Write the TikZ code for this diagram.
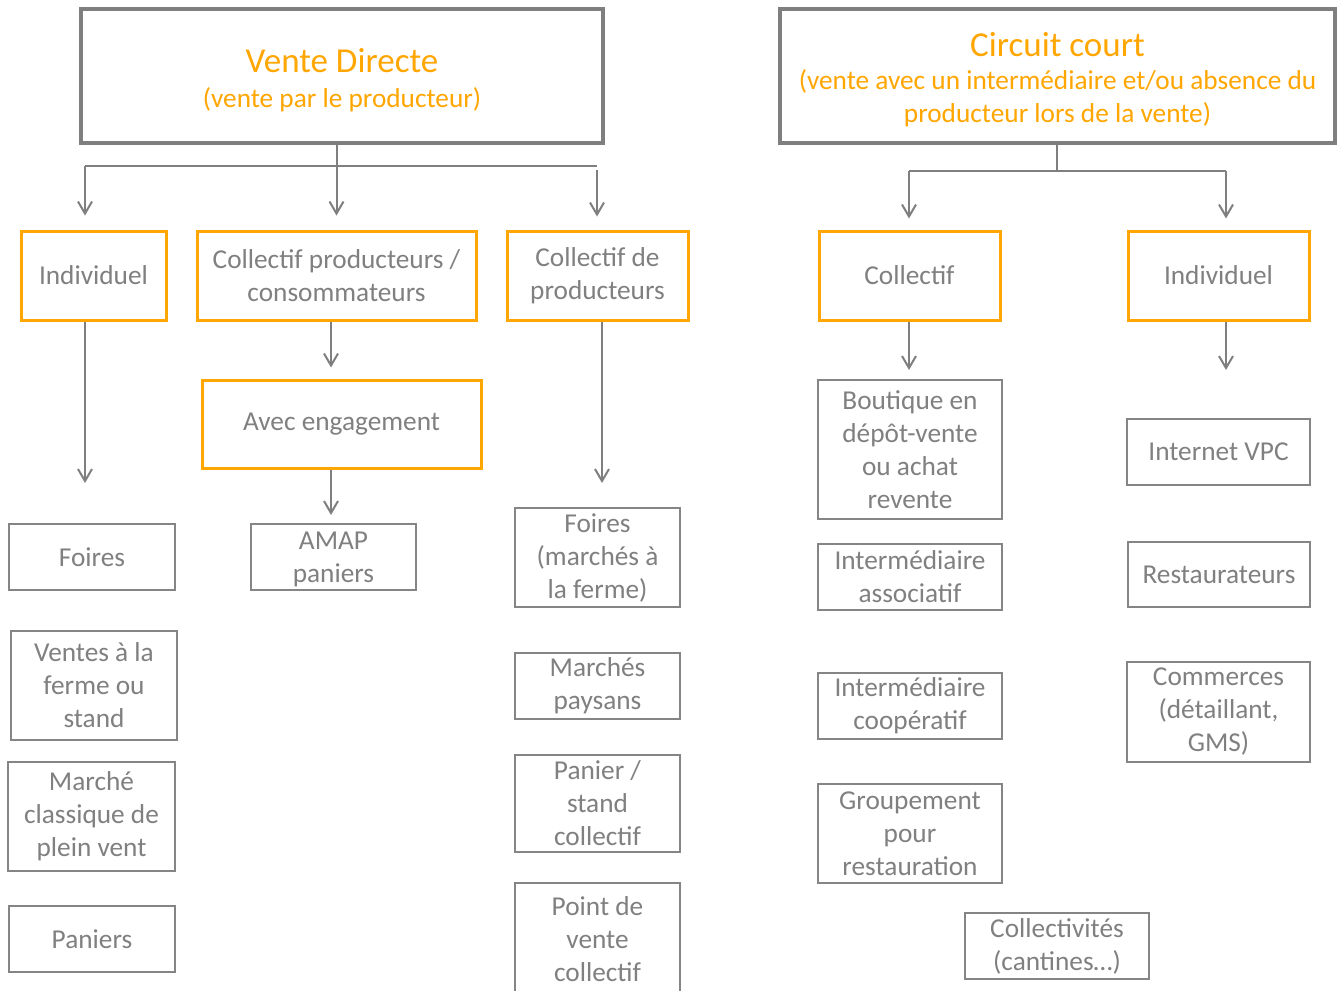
\documentclass[tikz,border=0pt]{standalone}
\usepackage{fontspec}
\setmainfont{Carlito}
\usetikzlibrary{arrows.meta}
\definecolor{textgray}{HTML}{808080}
\definecolor{linegray}{HTML}{7F7F7F}
\definecolor{boxgray}{HTML}{858585}
\definecolor{orangeC}{HTML}{FFA600}
\newcommand{\titlefont}{\fontsize{35}{40}\selectfont}
\newcommand{\subfont}{\fontsize{27.3}{33}\selectfont}
\newcommand{\bodyfont}{\fontsize{27.3}{33}\selectfont}
\tikzset{
  topbox/.style={draw=linegray, line width=4pt, inner sep=0pt},
  headtext/.style={text=orangeC, align=center, inner sep=0pt, font=\subfont},
  obox/.style={draw=orangeC, line width=3pt, text=textgray, align=center, inner sep=0pt,
    font=\bodyfont},
  gbox/.style={draw=boxgray, line width=2pt, text=textgray, align=center, inner sep=0pt,
    font=\bodyfont},
  conn/.style={draw=linegray, line width=2pt},
  arr/.style={conn, -{Straight Barb[length=12pt,width=14pt]}},
}
\begin{document}
\begin{tikzpicture}[x=1pt, y=-1pt]
\clip (0,0) rectangle (1342,991);
\fill[white] (0,0) rectangle (1342,991);

% headings
\node[topbox, minimum width=522pt, minimum height=134pt] (vd) at (342,76) {};
\node[headtext] (vdt) at ([yshift=-4pt]vd.center)
  {{\titlefont Vente Directe}\\[1.5pt](vente par le producteur)};
\node[topbox, minimum width=555pt, minimum height=134pt] (cc) at (1057.5,76) {};
\node[headtext] (cct) at ([yshift=-3.5pt]cc.center)
  {{\titlefont Circuit court}\\[0.5pt](vente avec un intermédiaire et/ou absence du\\producteur  lors de la vente)};

% second level: direct sales
\node[obox, minimum width=145pt, minimum height=89pt] (ind1) at (93.5,275.5) {Individuel};
\node[obox, minimum width=279pt, minimum height=89pt] (cpc) at (336.5,275.5) {Collectif producteurs /\\consommateurs};
\node[obox, minimum width=181pt, minimum height=89pt] (cdp) at (597.5,275.5) {Collectif de\\producteurs};
\node[obox, minimum width=279pt, minimum height=88pt] (avec) at (341.5,424) {Avec engagement};

% second level: short circuit
\node[obox, minimum width=181pt, minimum height=89pt] (col) at (909.5,275.5) {Collectif};
\node[obox, minimum width=181pt, minimum height=89pt] (ind2) at (1218.5,275.5) {Individuel};

% individual direct sales
\node[gbox, minimum width=166pt, minimum height=66pt] (foires1) at (92,557) {Foires};
\node[gbox, minimum width=166pt, minimum height=109pt] (ventes) at (94,685.5) {Ventes à la\\ferme ou\\stand};
\node[gbox, minimum width=167pt, minimum height=109pt] (marche) at (91.5,816.5) {Marché\\classique de\\plein vent};
\node[gbox, minimum width=166pt, minimum height=66pt] (paniers) at (92,939) {Paniers};

% producers / consumers
\node[gbox, minimum width=165pt, minimum height=66pt] (amap) at (333.5,557) {\strut AMAP\\paniers};

% producers' collectives
\node[gbox, minimum width=165pt, minimum height=99pt] (foires2) at (597.5,557.5) {Foires\\(marchés à\\la ferme)};
\node[gbox, minimum width=165pt, minimum height=66pt] (paysans) at (597.5,686) {Marchés\\paysans};
\node[gbox, minimum width=165pt, minimum height=97pt] (panier) at (597.5,803.5) {Panier /\\stand\\collectif};
\node[gbox, minimum width=165pt, minimum height=112pt] (point) at (597.5,939) {Point de\\vente\\collectif};

% collective short circuit
\node[gbox, minimum width=184pt, minimum height=139pt] (boutique) at (910,449.5) {Boutique en\\dépôt-vente\\ou achat\\revente};
\node[gbox, minimum width=184pt, minimum height=66pt] (assoc) at (910,577) {Intermédiaire\\associatif};
\node[gbox, minimum width=184pt, minimum height=66pt] (coop) at (910,706) {Intermédiaire\\coopératif};
\node[gbox, minimum width=184pt, minimum height=99pt] (group) at (910,833.5) {Groupement\\pour\\restauration};
\node[gbox, minimum width=184pt, minimum height=66pt] (collect) at (1057,946) {Collectivités\\(cantines…)};

% individual short circuit
\node[gbox, minimum width=183pt, minimum height=66pt] (vpc) at (1218.5,452) {Internet VPC};
\node[gbox, minimum width=182pt, minimum height=65pt] (resto) at (1219,574.5) {Restaurateurs};
\node[gbox, minimum width=183pt, minimum height=100pt] (commerces) at (1218.5,712) {Commerces\\(détaillant,\\GMS)};

% branching under "Vente Directe"
\coordinate (jL) at (85,166);
\coordinate (jR) at (597,166);
\coordinate (jR2) at (597,170);
\draw[conn] (jL) -- (jR);
\draw[arr, shorten >=14pt] (vd.south -| cpc.north) -- (cpc.north);
\draw[arr, shorten >=14pt] (jL) -- (jL |- ind1.north);
\draw[arr, shorten >=13pt] (jR2) -- (jR2 |- cdp.north);

% arrows below the direct-sale groups
\draw[arr, shorten >=40pt] (ind1.south -| jL) -- (jL |- foires1.north);
\coordinate (xA) at (331,0);
\draw[arr, shorten >=11pt] (cpc.south -| xA) -- (xA |- avec.north);
\draw[arr, shorten >=8pt] (avec.south -| xA) -- (xA |- amap.north);
\coordinate (xB) at (602,0);
\draw[arr, shorten >=24pt] (cdp.south -| xB) -- (xB |- foires2.north);

% branching under "Circuit court"
\coordinate (kM) at (1057,171);
\coordinate (kL) at (909,171);
\coordinate (kR) at (1226,171);
\draw[conn] (cc.south -| kM) -- (kM);
\draw[conn] (kL) -- (kR);
\draw[arr, shorten >=11pt] (kL) -- (kL |- col.north);
\draw[arr, shorten >=11pt] (kR) -- (kR |- ind2.north);

% arrows below the short-circuit groups
\draw[arr, shorten >=9pt] (col.south -| kL) -- (kL |- boutique.north);
\draw[arr, shorten >=48pt] (ind2.south -| kR) -- (kR |- vpc.north);
\end{tikzpicture}
\end{document}
